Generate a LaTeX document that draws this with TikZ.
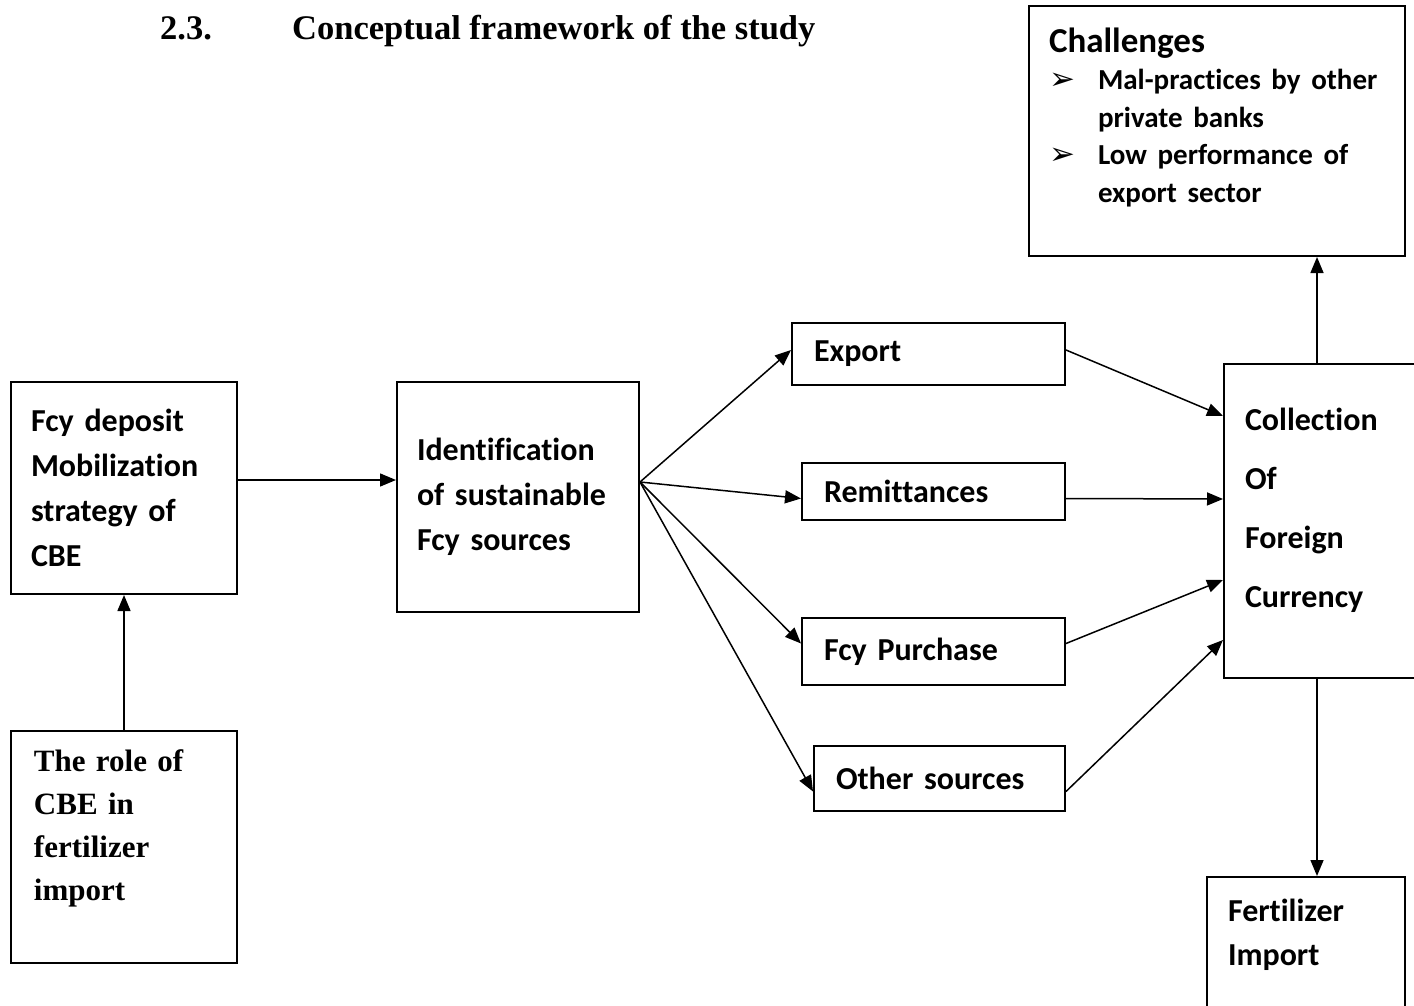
\documentclass[tikz,border=0pt]{standalone}
\usepackage{fontspec}
\setmainfont{Carlito}[Ligatures=NoCommon]
\newfontfamily\timesfont{Liberation Serif}
\newfontfamily\dejavufont{DejaVu Sans}
\usetikzlibrary{arrows.meta}
\tikzset{box/.style = {draw, line width=2pt, anchor=north west, align=left,
                       inner ysep=0pt, font=\bfseries\fontsize{32}{45}\selectfont},
         flow/.style = {line width=1.5pt, -{Triangle[length=16pt, width=13pt]}}}
\newcommand{\bulletarrow}{\makebox[49pt][l]{\dejavufont\fontsize{31}{30}\selectfont ➢}}

\begin{document}
\begin{tikzpicture}[x=1pt, y=-1pt]
    \useasboundingbox (0, 0) rectangle (1414, 1006);
    \node [anchor=base west, inner sep=0pt, font=\timesfont\bfseries\fontsize{34.5}{40}\selectfont] (secnum) at (160, 40) {2.3.};
    \node [anchor=base west, inner sep=0pt, font=\timesfont\bfseries\fontsize{34.5}{40}\selectfont] (sectitle) at (292, 40) {Conceptual framework of the study};

    \node [box, inner xsep=20pt, text width=186pt, minimum width=226pt, minimum height=212pt] (fcy) at (10, 381)
          {Fcy deposit\\ Mobilization\\ strategy of\\ CBE};
    \node [box, inner xsep=23pt, text width=180pt, minimum width=226pt, minimum height=232pt,
           font=\timesfont\bfseries\fontsize{31}{43}\selectfont] (role) at (10, 730)
          {The role of\\ CBE in\\ fertilizer\\ import\\ \mbox{}};
    \node [box, inner xsep=20pt, text width=202pt, minimum width=242pt, minimum height=230pt] (ident) at (396, 381)
          {Identification\\ of sustainable\\ Fcy sources};

    \node [box, inner xsep=22pt, text width=229pt, minimum width=273pt, minimum height=62pt] (export) at (791, 322) {Export};
    \node [box, inner xsep=22pt, text width=219pt, minimum width=263pt, minimum height=57pt] (remit) at (801, 462) {Remittances};
    \node [box, inner xsep=22pt, text width=219pt, minimum width=263pt, minimum height=67pt] (purch) at (801, 617) {Fcy Purchase};
    \node [box, inner xsep=22pt, text width=207pt, minimum width=251pt, minimum height=65pt] (other) at (813, 745) {Other sources};

    \node [box, inner xsep=21pt, text width=178pt, minimum width=220pt, minimum height=314pt,
           font=\bfseries\fontsize{32}{59}\selectfont] (coll) at (1223, 363)
          {Collection\\ Of\\ Foreign\\ Currency\\[-33pt] \mbox{}};
    \node [box, inner xsep=21pt, text width=156pt, minimum width=198pt, minimum height=170pt,
           font=\bfseries\fontsize{32}{44}\selectfont] (fert) at (1206, 876)
          {Fertilizer\\ Import\\[16pt] \mbox{}};
    \node [box, inner xsep=20pt, text width=336pt, minimum width=376pt, minimum height=250pt] (chall) at (1028, 5)
          {{\fontsize{35}{40}\selectfont Challenges\par}
           \fontsize{29}{37.5}\selectfont
           \bulletarrow Mal-practices by other\\
           \hspace*{49pt}private banks\\
           \bulletarrow Low performance of\\
           \hspace*{49pt}export sector\\[-13pt] \mbox{}};

    \coordinate (fan) at ([yshift=15pt]ident.east);
    \draw [flow] (role.north) -- (fcy.south);
    \draw [flow] ([yshift=8pt]fcy.east) -- ([yshift=8pt]fcy.east -| ident.west);
    \draw [flow] (fan) -- ([yshift=4pt]export.west);
    \draw [flow] (fan) -- ([yshift=-7pt]remit.west);
    \draw [flow] (fan) -- ([yshift=8pt]purch.west);
    \draw [flow] (fan) -- ([yshift=-13pt]other.west);
    \draw [flow] ([yshift=4pt]export.east) -- ([yshift=105pt]coll.west);
    \draw [flow] ([yshift=-7pt]remit.east) -- ([yshift=22pt]coll.west);
    \draw [flow] ([yshift=8pt]purch.east) -- ([yshift=-59pt]coll.west);
    \draw [flow] ([yshift=-13pt]other.east) -- ([yshift=-119pt]coll.west);
    \draw [flow] ([xshift=-17pt]coll.north) -- ([xshift=-17pt]coll.north |- chall.south);
    \draw [flow] ([xshift=-17pt]coll.south) -- ([xshift=-17pt]coll.south |- fert.north);
  \end{tikzpicture}
\end{document}
